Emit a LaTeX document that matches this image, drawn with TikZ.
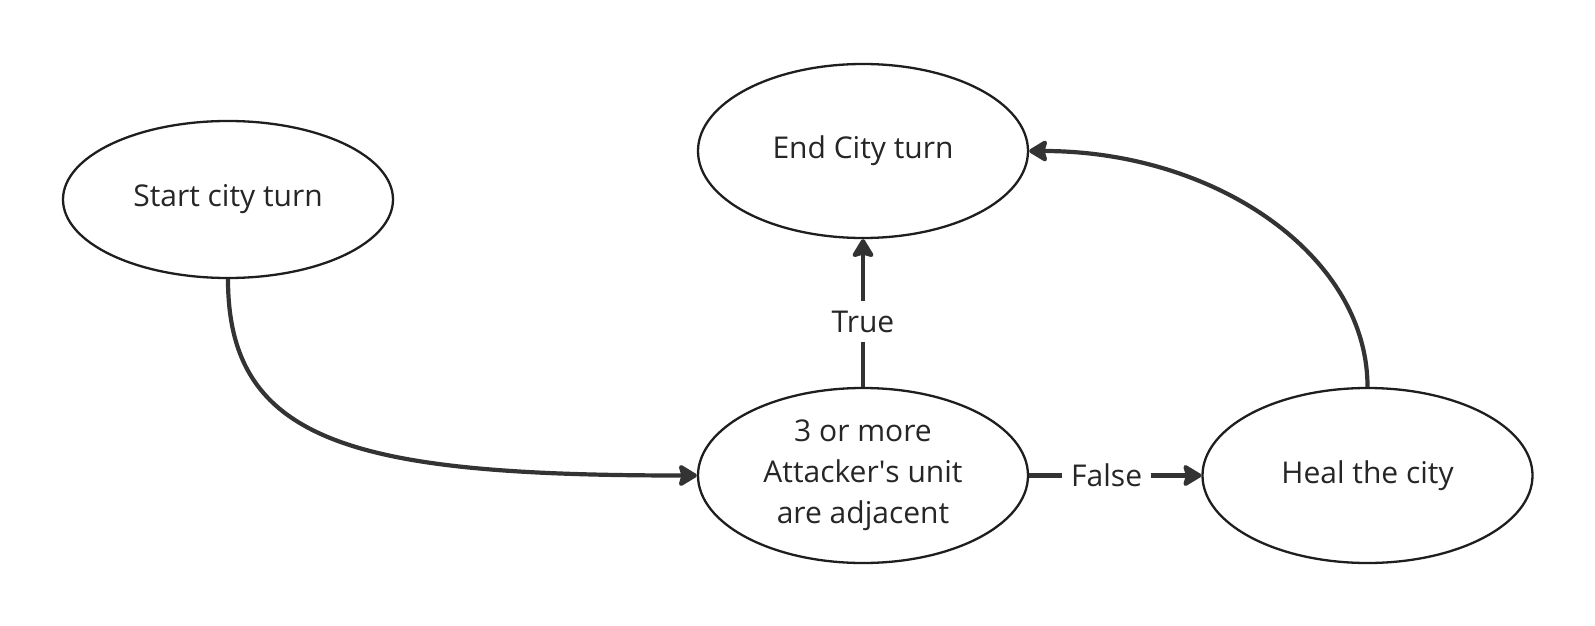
\documentclass[tikz,border=0pt]{standalone}
\usepackage{fontspec}
\setmainfont{Open Sans}
\usetikzlibrary{shapes.geometric,arrows.meta}
\definecolor{ink}{HTML}{1E1E1E}
\definecolor{connc}{HTML}{333333}
\definecolor{txt}{HTML}{262626}
\begin{document}
\begin{tikzpicture}[x=1bp,y=-1bp,
  state/.style={ellipse, draw=ink, line width=2.3bp, minimum width=330bp, inner sep=0pt,
    align=center, text=txt, font=\fontsize{30bp}{41bp}\selectfont},
  connector/.style={draw=connc, line width=4.2bp, line cap=butt,
    -{Stealth[length=21bp,width=25bp,inset=3.5bp,round]}},
  lbl/.style={fill=white, text=txt, font=\fontsize{30bp}{41bp}\selectfont,
    inner xsep=9bp, inner ysep=10bp, text height=21bp, text depth=0bp}]
\useasboundingbox[fill=white] (0,0) rectangle (1595,626);
\node[state, minimum height=157bp] (start) at (228,199.5) {Start city turn};
\node[state, minimum height=174bp] (endt) at (863,151) {End City turn};
\node[state, minimum height=175bp] (cond) at (863,475.5) {3 or more\\Attacker\textquotesingle s unit\\are adjacent};
\node[state, minimum height=175bp] (heal) at (1367.5,475.5) {Heal the city};
\draw[connector] (start.south) .. controls +(0,165) and +(-340,0) .. (cond.west);
\draw[connector] (cond.north) -- node[lbl, pos=0.44] {True} (endt.south);
\draw[connector] (cond.east) -- node[lbl, pos=0.45] {False} (heal.west);
\draw[connector] (heal.north) .. controls +(0,-131) and +(187,0) .. (endt.east);
\end{tikzpicture}
\end{document}
